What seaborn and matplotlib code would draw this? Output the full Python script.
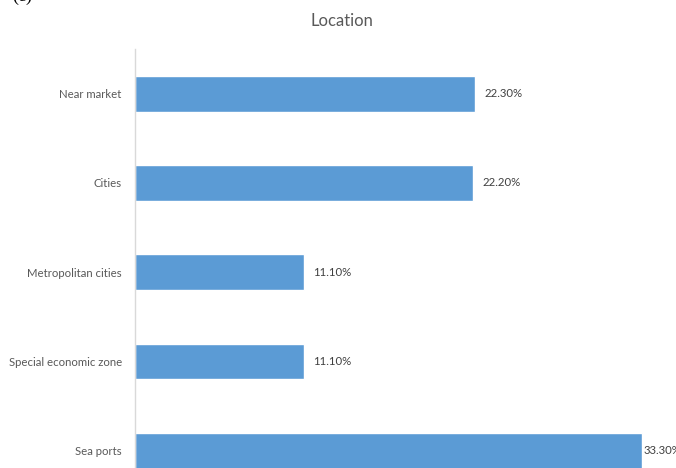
import pandas as pd
import seaborn as sns
import matplotlib.pyplot as plt

# data
locations = ['Near market', 'Cities', 'Metropolitan cities',
             'Special economic zone', 'Sea ports']
shares = [22.3, 22.2, 11.1, 11.1, 33.3]
labels = ['22.30%', '22.20%', '11.10%', '11.10%', '33.30%']

df = pd.DataFrame({'location': locations, 'share': shares})

sns.set_style('white')
plt.rcParams['font.family'] = ['Lato', 'DejaVu Sans']

fig = plt.figure(figsize=(6.76, 4.68), dpi=100)
# the plot area runs past the bottom of the picture (cropped like the source)
ax = fig.add_axes([135 / 676, -27.5 / 468, 541 / 676, 446.5 / 468])

sns.barplot(data=df, x='share', y='location', color='#5B9BD5',
            saturation=1, width=0.40, ax=ax)

ax.set_xlim(0, 541 / 15.24)
ax.set_xlabel('')
ax.set_ylabel('')
ax.set_xticks([])
ax.tick_params(axis='y', length=0, pad=9.5, labelsize=8.2, labelcolor='#595959')
for s in ['top', 'right', 'bottom']:
    ax.spines[s].set_visible(False)
ax.spines['left'].set_color('#d9d9d9')
ax.spines['left'].set_linewidth(1)

# value labels, the last one sits on the bar end as it ran out of room
for i, (v, t) in enumerate(zip(shares, labels)):
    off = 0.6 if i < len(shares) - 1 else 0.05
    ax.text(v + off, i, t, va='center', ha='left', fontsize=8.2, color='#404040')

fig.text(0.506, 1 - 29 / 468, 'Location', ha='center', va='bottom',
         fontsize=12, color='#595959')
fig.text(12 / 676, 1 - 5 / 468, '(c)', ha='left', va='bottom', fontsize=13,
         family='Liberation Serif', color='black')

fig.savefig('out.png', dpi=100)
